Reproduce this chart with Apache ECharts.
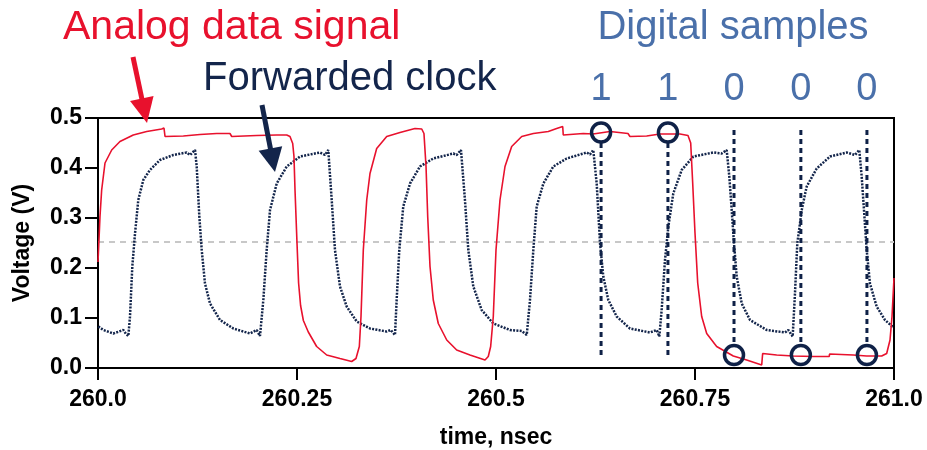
<!DOCTYPE html>
<html>
<head>
<meta charset="utf-8">
<script src="https://cdn.jsdelivr.net/npm/echarts@6/dist/echarts.min.js"></script>
<style>
html,body{margin:0;padding:0;background:#fff;}
#main{width:927px;height:450px;}
</style>
</head>
<body>
<div id="main"></div>
<script>
// ---- data ----
const analogT = [
260.0000,260.0016,260.0025,260.0046,260.0088,260.0172,260.0276,260.0443,260.0612,260.0800,
260.0829,260.0842,260.1072,260.1281,260.1491,260.1658,260.1680,260.1994,260.2245,260.2371,
260.2412,260.2446,260.2462,260.2475,260.2500,260.2520,260.2545,260.2580,260.2642,260.2747,
260.2873,260.3040,260.3187,260.3241,260.3283,260.3304,260.3333,260.3376,260.3417,260.3501,
260.3627,260.3794,260.3982,260.4067,260.4095,260.4121,260.4142,260.4171,260.4212,260.4275,
260.4381,260.4506,260.4673,260.4862,260.4903,260.4933,260.4966,260.5000,260.5050,260.5113,
260.5197,260.5323,260.5469,260.5657,260.5762,260.5838,260.5845,260.6097,260.6219,260.6432,
260.6658,260.6683,260.6893,260.7060,260.7312,260.7412,260.7446,260.7471,260.7500,260.7534,
260.7584,260.7647,260.7772,260.7981,260.8149,260.8338,260.8350,260.8526,260.8735,260.8986,
260.9187,260.9190,260.9488,260.9657,260.9845,260.9908,260.9950,260.9975,261.0000];
const analogV = [
0.212,0.270,0.303,0.356,0.410,0.436,0.453,0.466,0.473,0.478,
0.480,0.463,0.464,0.467,0.469,0.469,0.463,0.465,0.466,0.466,
0.463,0.449,0.423,0.356,0.250,0.170,0.125,0.095,0.072,0.043,
0.026,0.019,0.013,0.019,0.043,0.103,0.236,0.336,0.389,0.439,
0.463,0.471,0.479,0.478,0.469,0.403,0.303,0.203,0.136,0.089,
0.056,0.036,0.026,0.016,0.023,0.043,0.103,0.236,0.336,0.403,
0.443,0.463,0.469,0.473,0.479,0.483,0.466,0.469,0.468,0.473,
0.469,0.463,0.464,0.468,0.468,0.465,0.450,0.370,0.270,0.170,
0.103,0.069,0.043,0.024,0.016,0.006,0.029,0.026,0.024,0.023,
0.023,0.028,0.026,0.024,0.024,0.029,0.056,0.103,0.180];

const clockT = [
260.0004,260.0067,260.0192,260.0318,260.0352,260.0381,260.0402,260.0431,260.0465,260.0506,
260.0569,260.0653,260.0779,260.0946,260.1114,260.1156,260.1219,260.1240,260.1273,260.1303,
260.1344,260.1407,260.1533,260.1700,260.1910,260.1994,260.2035,260.2077,260.2119,260.2161,
260.2245,260.2371,260.2538,260.2789,260.2852,260.2893,260.2936,260.2977,260.3040,260.3124,
260.3250,260.3417,260.3627,260.3677,260.3731,260.3752,260.3785,260.3835,260.3920,260.4045,
260.4212,260.4464,260.4506,260.4560,260.4610,260.4652,260.4715,260.4820,260.4966,260.5176,
260.5323,260.5343,260.5386,260.5427,260.5469,260.5511,260.5595,260.5720,260.5888,260.6139,
260.6181,260.6222,260.6265,260.6307,260.6348,260.6411,260.6516,260.6683,260.6935,260.7019,
260.7052,260.7081,260.7123,260.7165,260.7227,260.7333,260.7479,260.7730,260.7835,260.7856,
260.7898,260.7931,260.7961,260.7990,260.8024,260.8087,260.8191,260.8401,260.8631,260.8672,
260.8727,260.8756,260.8785,260.8841,260.8903,260.9029,260.9196,260.9406,260.9510,260.9564,
260.9594,260.9623,260.9657,260.9698,260.9782,260.9887,260.9971,261.0000];
const clockV = [
0.083,0.076,0.069,0.076,0.068,0.064,0.103,0.203,0.269,0.336,
0.376,0.396,0.416,0.426,0.431,0.426,0.436,0.403,0.303,0.236,
0.169,0.129,0.096,0.079,0.069,0.076,0.064,0.136,0.236,0.316,
0.369,0.403,0.423,0.431,0.426,0.436,0.336,0.236,0.163,0.123,
0.093,0.079,0.073,0.076,0.066,0.136,0.236,0.323,0.369,0.403,
0.419,0.429,0.426,0.436,0.336,0.236,0.163,0.116,0.089,0.076,
0.074,0.077,0.066,0.136,0.236,0.323,0.369,0.403,0.419,0.431,
0.427,0.436,0.369,0.249,0.183,0.136,0.103,0.079,0.071,0.076,
0.063,0.116,0.216,0.283,0.349,0.396,0.423,0.431,0.429,0.426,
0.436,0.383,0.316,0.249,0.183,0.129,0.096,0.076,0.071,0.076,
0.063,0.149,0.249,0.316,0.363,0.399,0.423,0.431,0.426,0.436,
0.383,0.316,0.236,0.169,0.123,0.096,0.084,0.082];

const sampleT = [260.632, 260.716, 260.799, 260.883, 260.966];
const sampleV = [0.471, 0.471, 0.026, 0.026, 0.026];
const sampleBits = ['1', '1', '0', '0', '0'];
const sampleLineTop = 0.476;
const sampleLineBottom = 0.022;
const thresholdV = 0.252;

const xTickLabels = ['260.0', '260.25', '260.5', '260.75', '261.0'];
const yTickLabels = ['0.0', '0.1', '0.2', '0.3', '0.4', '0.5'];

// ---- styles ----
const RED = '#e8112d';
const NAVY = '#13254b';
const SAMPLE = '#0f2147';
const BLUE = '#4a70aa';
const FONT = '"Liberation Sans", Arial, Helvetica, sans-serif';

const zip = (a, b) => a.map((t, i) => [t, b[i]]);

const sampleLineSeries = sampleT.map((t, i) => {
  const circleGap = 0.021;
  const top = sampleBits[i] === '1' ? sampleV[i] - circleGap : sampleLineTop;
  const bot = sampleBits[i] === '1' ? sampleLineBottom : sampleV[i] + circleGap;
  return {
    type: 'line', silent: true, symbol: 'none', z: 4,
    data: [[t, top], [t, bot]],
    lineStyle: { color: SAMPLE, width: 3, type: [5, 4] }
  };
});

const chart = echarts.init(document.getElementById('main'), null, { renderer: 'canvas' });
const option = {
  animation: false,
  backgroundColor: '#ffffff',
  grid: {
    left: 98, right: 33, top: 118, bottom: 82, show: true,
    borderColor: '#000', borderWidth: 2, backgroundColor: 'transparent',
    containLabel: false, outerBoundsMode: 'none'
  },
  xAxis: {
    type: 'value', min: 260, max: 261, interval: 0.25,
    axisLine: { show: true, lineStyle: { color: '#000', width: 2 } },
    axisTick: { show: true, inside: false, length: 12, lineStyle: { color: '#000', width: 2 } },
    splitLine: { show: false },
    axisLabel: {
      margin: 20, color: '#000', fontWeight: 'bold', fontSize: 23, fontFamily: FONT,
      formatter: v => xTickLabels[Math.round((v - 260) / 0.25)]
    },
    name: 'time, nsec', nameLocation: 'middle', nameGap: 58,
    nameTextStyle: { color: '#000', fontWeight: 'bold', fontSize: 23, fontFamily: FONT }
  },
  yAxis: {
    type: 'value', min: 0, max: 0.5, interval: 0.1,
    axisLine: { show: true, lineStyle: { color: '#000', width: 2 } },
    axisTick: { show: true, inside: false, length: 13, lineStyle: { color: '#000', width: 2 } },
    splitLine: { show: false },
    axisLabel: {
      margin: 16, color: '#000', fontWeight: 'bold', fontSize: 23, fontFamily: FONT,
      formatter: v => yTickLabels[Math.round(v / 0.1)]
    },
    name: 'Voltage (V)', nameLocation: 'middle', nameGap: 64, nameRotate: 90,
    nameTextStyle: { color: '#000', fontWeight: 'bold', fontSize: 23, fontFamily: FONT }
  },
  series: [
    {
      type: 'line', silent: true, symbol: 'none', z: 1,
      data: [[260, thresholdV], [261, thresholdV]],
      lineStyle: { color: '#c8c8c8', width: 2, type: [6, 5] }
    },
    {
      type: 'line', silent: true, symbol: 'none', z: 2,
      data: zip(clockT, clockV),
      lineStyle: { color: NAVY, width: 2.5, type: [2, 1.3] }
    },
    {
      type: 'line', silent: true, symbol: 'none', z: 3,
      data: zip(analogT, analogV),
      lineStyle: { color: RED, width: 1.6 }
    },
    ...sampleLineSeries,
    {
      type: 'scatter', silent: true, z: 5,
      data: zip(sampleT, sampleV),
      symbol: 'circle', symbolSize: 19,
      itemStyle: { color: 'rgba(0,0,0,0)', borderColor: SAMPLE, borderWidth: 3.5, opacity: 1 }
    }
  ]
};
chart.setOption(option);

// ---- annotations ----
function arrow(x0, y0, x1, y1, color, headLen, headHalf, shaftW) {
  const dx = x1 - x0, dy = y1 - y0, L = Math.hypot(dx, dy);
  const ux = dx / L, uy = dy / L, nx = -uy, ny = ux;
  const bx = x1 - ux * headLen, by = y1 - uy * headLen;
  return [
    { type: 'line', shape: { x1: x0, y1: y0, x2: bx + ux * 2, y2: by + uy * 2 }, style: { stroke: color, lineWidth: shaftW }, z: 10 },
    { type: 'polygon', shape: { points: [[x1, y1], [bx + nx * headHalf, by + ny * headHalf], [bx - nx * headHalf, by - ny * headHalf]] }, style: { fill: color }, z: 10 }
  ];
}

const graphics = [
  { type: 'text', z: 10, style: { text: 'Analog data signal', x: 63, y: 28, font: '41px ' + FONT, fill: RED, textAlign: 'left', textVerticalAlign: 'middle' } },
  { type: 'text', z: 10, style: { text: 'Forwarded clock', x: 203, y: 79, font: '40px ' + FONT, fill: NAVY, textAlign: 'left', textVerticalAlign: 'middle' } },
  { type: 'text', z: 10, style: { text: 'Digital samples', x: 733, y: 28, font: '40px ' + FONT, fill: BLUE, textAlign: 'center', textVerticalAlign: 'middle' } },
  ...arrow(133, 57, 147, 123, RED, 25, 12, 5),
  ...arrow(262, 105, 275, 172, NAVY, 24, 12, 5)
];
sampleT.forEach((t, i) => {
  const p = chart.convertToPixel({ gridIndex: 0 }, [t, 0]);
  graphics.push({ type: 'text', z: 10, style: { text: sampleBits[i], x: p[0], y: 90, font: '38px ' + FONT, fill: BLUE, textAlign: 'center', textVerticalAlign: 'middle' } });
});
chart.setOption({ graphic: graphics });
</script>
</body>
</html>
